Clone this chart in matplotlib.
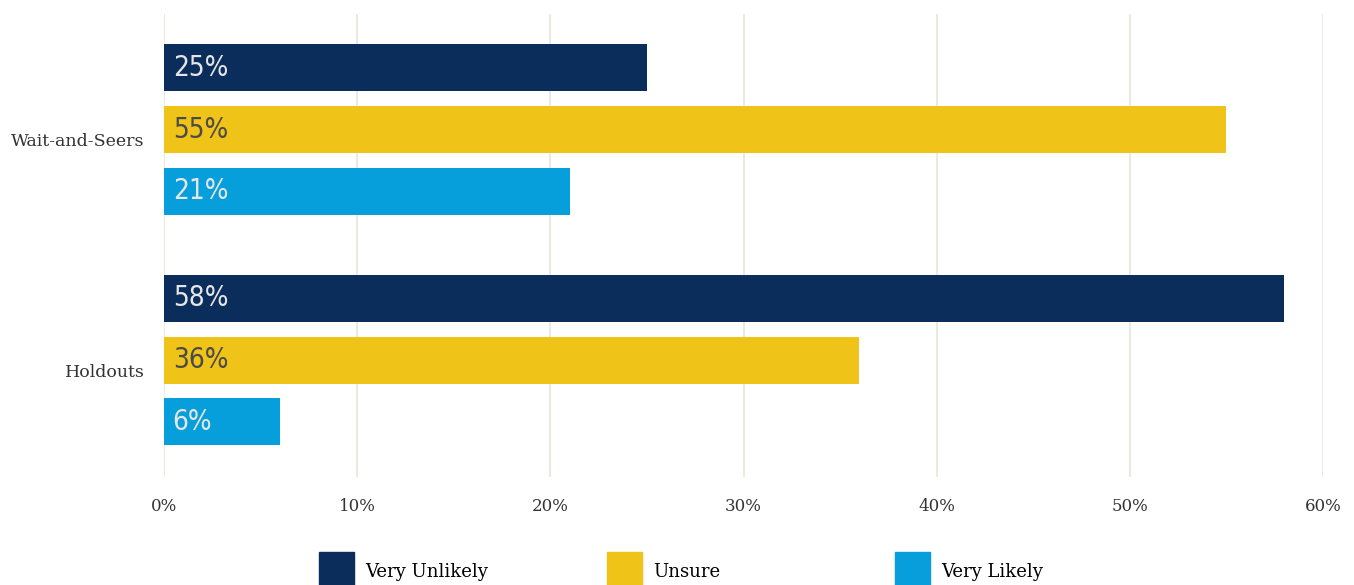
import numpy as np
import matplotlib
matplotlib.use("Agg")
import matplotlib.pyplot as plt
from matplotlib.patches import Patch

groups = ["Wait-and-Seers", "Holdouts"]
series = ["Very Unlikely", "Unsure", "Very Likely"]
very_unlikely = [25, 58]
unsure = [55, 36]
very_likely = [21, 6]
values = [very_unlikely, unsure, very_likely]
ticks = [0, 10, 20, 30, 40, 50, 60]

COLORS = ["#0b2d5b", "#f0c319", "#079fdb"]
TEXT_COLORS = ["#e6e6e6", "#4a4a4a", "#e6e6e6"]
SERIF = ["DejaVu Serif"]

fig = plt.figure(figsize=(13.54, 5.85), dpi=100)
ax = fig.add_axes([164 / 1354, 1 - 477 / 585, (1323 - 164) / 1354, 463 / 585])

group_pos = np.array([0.0, 3.73])
for i, (name, vals) in enumerate(zip(series, values)):
    y = group_pos + (i - 1)
    ax.barh(y, vals, height=0.76, color=COLORS[i], zorder=2, label=name)
    for yy, v in zip(y, vals):
        ax.text(0.45, yy, f"{v}%", va="center", ha="left", fontsize=20,
                color=TEXT_COLORS[i], family="DejaVu Sans", stretch="condensed",
                zorder=3)

ax.set_xlim(0, 60)
ax.set_ylim(5.62, -1.87)
ax.set_xticks(ticks)
ax.set_xticklabels([f"{t}%" for t in ticks], family=SERIF, fontsize=12, color="#333333")
ax.set_yticks(group_pos + 0.16)
ax.set_yticklabels(groups, family=SERIF, fontsize=12.5, color="#333333")
ax.tick_params(length=0)
ax.tick_params(axis="x", pad=15)
ax.tick_params(axis="y", pad=14)
ax.grid(axis="x", color="#e8e6dc", lw=1.2, zorder=0)
for s in ax.spines.values():
    s.set_visible(False)

# one legend per entry so they sit on a fixed spacing
for i, name in enumerate(series):
    x0 = (319 + 288 * i) / 1354
    fig.legend(handles=[Patch(color=COLORS[i])], labels=[name],
               loc="upper left", bbox_to_anchor=(x0, 1 - 552 / 585),
               frameon=False, borderaxespad=0, borderpad=0,
               handlelength=1.95, handleheight=2.9, handletextpad=0.6,
               prop={"family": SERIF, "size": 13})

fig.savefig("out.png", dpi=100, facecolor="white")
